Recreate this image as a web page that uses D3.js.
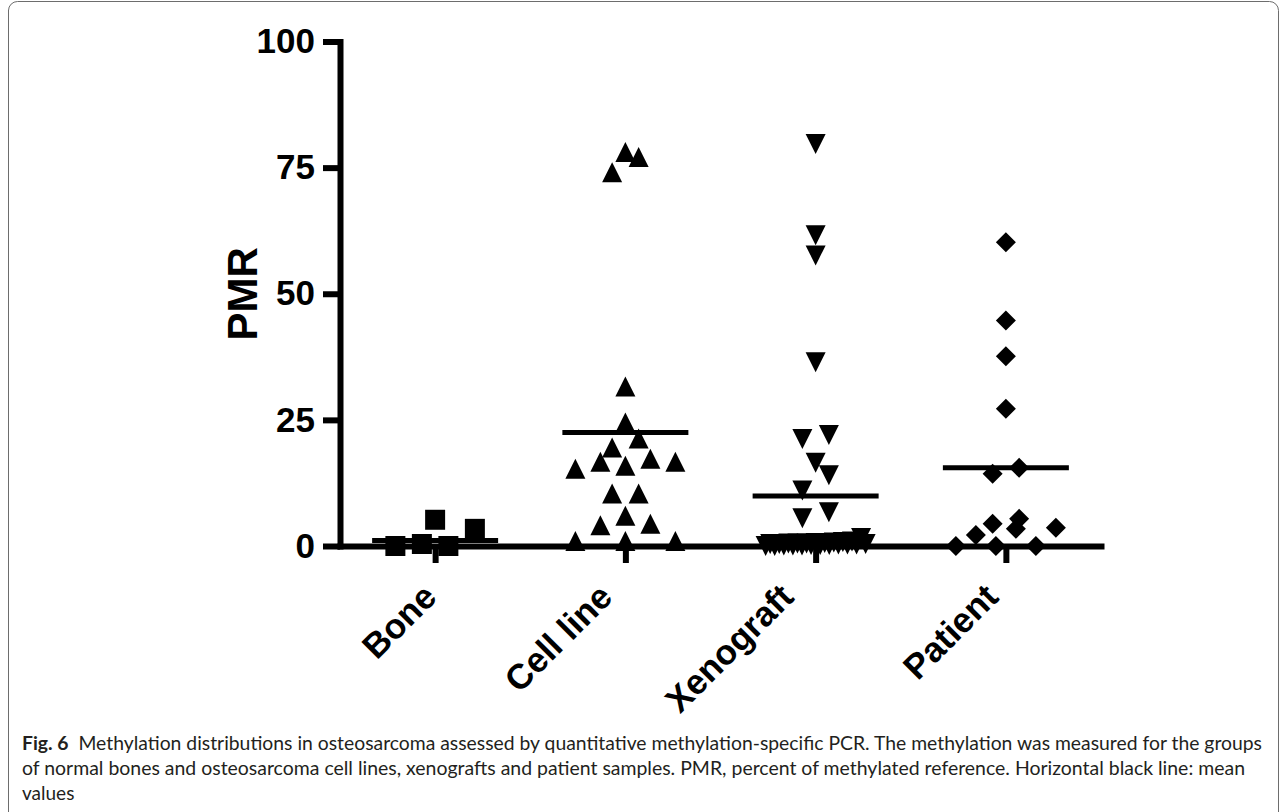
<!DOCTYPE html>
<html>
<head>
<meta charset="utf-8">
<script src="https://cdn.jsdelivr.net/npm/d3@7"></script>
<style>
  html, body { margin: 0; padding: 0; background: #fff; }
  svg { display: block; }
</style>
</head>
<body>
<script>
// Data (PMR values per group)
const categories = ["Bone", "Cell line", "Xenograft", "Patient"];
const bone = [5.2, 3.4, 0, 0, 0.4];
const cellLine = [74.1, 77.1, 78.1, 31.6, 24.5, 21.3, 19.5, 15.3, 15.9, 16.7, 16.7, 17.3,
                  10.4, 10.4, 6.0, 4.4, 4.1, 1.0, 1.0, 1.0];
const xenograft = [79.7, 61.6, 57.6, 36.4, 22.0, 21.2, 16.5, 14.0, 11.0, 6.7, 5.5, 1.6,
                   0.9, 0.8, 0.7, 0.6, 0.6, 0.5, 0.5, 0.5, 0.4, 0.4, 0.4, 0.3, 0.3, 0.3,
                   0.2, 0.2, 0.2, 0.1, 0.1, 0.1, 0.0, 0.0];
const patient = [60.2, 44.7, 37.6, 27.2, 15.5, 14.3, 5.4, 4.4, 3.6, 3.4, 2.2, 0, 0, 0];
const groupMeans = [1.1, 22.5, 9.9, 15.5];   // horizontal black lines
const yTicks = [0, 25, 50, 75, 100];

const captionBold = "Fig. 6";
const captionLines = [
  "Methylation distributions in osteosarcoma assessed by quantitative methylation-specific PCR. The methylation was measured for the groups",
  "of normal bones and osteosarcoma cell lines, xenografts and patient samples. PMR, percent of methylated reference. Horizontal black line: mean",
  "values"
];

const W = 1287, H = 812;
const font = "'Liberation Sans', Arial, sans-serif";

const svg = d3.select("body").append("svg")
  .attr("width", W)
  .attr("height", H);

svg.append("rect").attr("width", W).attr("height", H).attr("fill", "#fff");

// figure frame (rounded top corners, runs off the bottom)
const frame = d3.path();
frame.moveTo(8.5, H);
frame.lineTo(8.5, 10);
frame.arcTo(8.5, 1.5, 17.5, 1.5, 9);
frame.lineTo(1269.5, 1.5);
frame.arcTo(1278.5, 1.5, 1278.5, 10.5, 9);
frame.lineTo(1278.5, H);
svg.append("path").attr("d", frame.toString())
  .attr("fill", "none").attr("stroke", "#6d6d6d").attr("stroke-width", 1);

// scales
const y = d3.scaleLinear().domain([0, 100]).range([546, 41.5]);
const x = d3.scalePoint().domain(categories).range([340, 1101]).padding(0.5);

// axes
const yAxis = svg.append("g")
  .attr("transform", "translate(340,0)")
  .call(d3.axisLeft(y).tickValues(yTicks).tickSize(17).tickSizeOuter(0).tickPadding(8));
yAxis.select(".domain").attr("stroke-width", 6).attr("stroke-linecap", "square");
yAxis.selectAll(".tick line").attr("stroke-width", 6);
yAxis.selectAll(".tick text")
  .attr("font-family", font).attr("font-weight", "bold").attr("font-size", 35)
  .attr("fill", "#000");

const xAxis = svg.append("g")
  .attr("transform", `translate(0,${y(0)})`)
  .call(d3.axisBottom(x).tickSize(17).tickSizeOuter(0));
xAxis.select(".domain").attr("stroke-width", 6).attr("stroke-linecap", "square");
xAxis.selectAll(".tick line").attr("stroke-width", 6);
xAxis.selectAll(".tick text")
  .attr("font-family", font).attr("font-weight", "bold").attr("font-size", 35)
  .attr("fill", "#000")
  .attr("text-anchor", "end")
  .attr("y", 0).attr("dy", 0)
  .attr("transform", function() {
    // longer labels sit a little further left, as in the original layout
    const len = this.getComputedTextLength();
    return `translate(${30 - 0.31 * len},53) rotate(-45)`;
  });

// y axis title
svg.append("text")
  .attr("transform", `translate(257,${y(50)}) rotate(-90)`)
  .attr("text-anchor", "middle")
  .attr("font-family", font).attr("font-weight", "bold").attr("font-size", 42)
  .text("PMR");

// marker shapes
const triUp = { draw(ctx, size) { const r = Math.sqrt(size) / 2;
  ctx.moveTo(0, -r); ctx.lineTo(r, r); ctx.lineTo(-r, r); ctx.closePath(); } };
const triDown = { draw(ctx, size) { const r = Math.sqrt(size) / 2;
  ctx.moveTo(0, r); ctx.lineTo(r, -r); ctx.lineTo(-r, -r); ctx.closePath(); } };
const diamond = { draw(ctx, size) { const r = Math.sqrt(size) / 2;
  ctx.moveTo(0, -r); ctx.lineTo(r, 0); ctx.lineTo(0, r); ctx.lineTo(-r, 0); ctx.closePath(); } };

const groups = [
  { name: categories[0], values: bone, shape: d3.symbolSquare },
  { name: categories[1], values: cellLine, shape: triUp },
  { name: categories[2], values: xenograft, shape: triDown },
  { name: categories[3], values: patient, shape: diamond }
];

const markerSize = 400;          // 20 x 20 px
const rowHeight = 20;            // px, points closer than this share a row
const step = 26.5;               // px between neighbours in a row
const maxSpread = 100;           // px, rows wider than this get squeezed

// column scatter layout: bin into rows by value, spread each row around the centre
function swarm(values, cx) {
  const pts = values.map(v => ({ v, py: y(v) })).sort((a, b) => a.v - b.v);
  const out = [];
  let i = 0;
  while (i < pts.length) {
    const start = pts[i].py;
    const row = [];
    while (i < pts.length && start - pts[i].py < rowHeight) row.push(pts[i++]);
    const n = row.length;
    const s = n > 1 ? Math.min(step, maxSpread / (n - 1)) : 0;
    const order = d3.range(0, n, 2).concat(d3.range(1, n, 2));
    row.forEach((p, k) => {
      out.push({ v: p.v, px: cx + (order[k] - (n - 1) / 2) * s, py: p.py });
    });
  }
  return out;
}

const symbol = d3.symbol().size(markerSize);

groups.forEach((g, gi) => {
  const cx = x(g.name);
  svg.append("g").selectAll("path")
    .data(swarm(g.values, cx))
    .join("path")
    .attr("transform", d => `translate(${d.px},${d.py})`)
    .attr("d", symbol.type(g.shape)())
    .attr("fill", "#000");

  // mean line
  svg.append("line")
    .attr("x1", cx - 63).attr("x2", cx + 63)
    .attr("y1", y(groupMeans[gi])).attr("y2", y(groupMeans[gi]))
    .attr("stroke", "#000").attr("stroke-width", 5);
});

// caption
const capFont = "Lato, 'Open Sans', sans-serif";
const cap = svg.append("g").attr("font-family", capFont).attr("font-size", 19).attr("fill", "#231f20");
const line1 = cap.append("text").attr("x", 22).attr("y", 750)
  .attr("textLength", 1240).attr("lengthAdjust", "spacingAndGlyphs");
line1.append("tspan").attr("font-weight", "bold").text(captionBold);
line1.append("tspan").text("\u00a0\u00a0" + captionLines[0]);
cap.append("text").attr("x", 22).attr("y", 775)
  .attr("textLength", 1223).attr("lengthAdjust", "spacingAndGlyphs")
  .text(captionLines[1]);
cap.append("text").attr("x", 22).attr("y", 800)
  .text(captionLines[2]);
</script>
</body>
</html>
